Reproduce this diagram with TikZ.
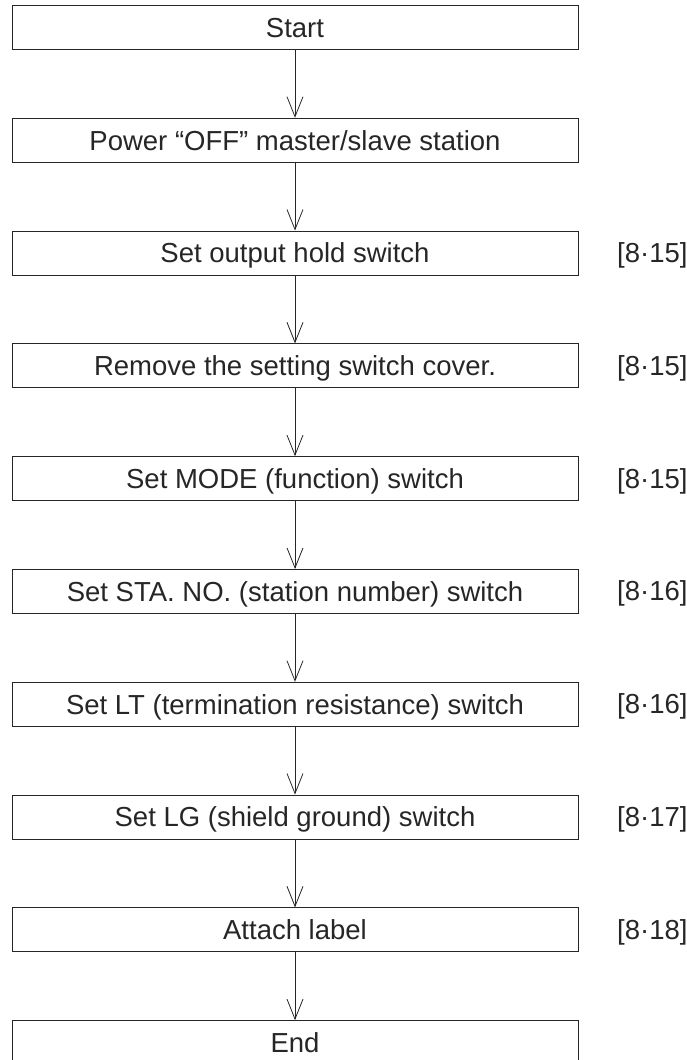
\documentclass[tikz,border=0pt]{standalone}
\usepackage{fontspec}
\setmainfont{Liberation Sans}
\usetikzlibrary{arrows.meta}
\begin{document}
\begin{tikzpicture}[x=1pt,y=-1pt,
  stepbox/.style={draw=black!85,line width=1pt,minimum width=566pt,minimum height=44pt,
    inner sep=0pt,text height=19.7pt,text depth=0pt,anchor=north,
    font=\fontsize{27.5}{30}\selectfont,text=black!85},
  refnote/.style={anchor=west,inner sep=0pt,text height=19.7pt,text depth=0pt,
    font=\fontsize{27.5}{30}\selectfont,text=black!85},
  flow/.style={draw=black!85,line width=0.8pt,-{Straight Barb[length=20pt,width=16pt]}}]
\useasboundingbox (0,0) rectangle (686,1060);
\clip (0,0) rectangle (686,1060);
\node[stepbox] (n0) at (295,5) {Start};
\node[stepbox] (n1) at (295,117.8) {Power “OFF” master/slave station};
\node[stepbox] (n2) at (295,230.6) {Set output hold switch};
\node[stepbox] (n3) at (295,343.4) {Remove the setting switch cover.};
\node[stepbox] (n4) at (295,456.2) {Set MODE (function) switch};
\node[stepbox] (n5) at (295,569) {Set STA. NO. (station number) switch};
\node[stepbox] (n6) at (295,681.8) {Set LT (termination resistance) switch};
\node[stepbox] (n7) at (295,794.6) {Set LG (shield ground) switch};
\node[stepbox] (n8) at (295,907.4) {Attach label};
\node[stepbox] (n9) at (295,1020.2) {End};
\node[refnote] (r2) at (617,252.6) {[8·15]};
\node[refnote] (r3) at (617,365.4) {[8·15]};
\node[refnote] (r4) at (617,478.2) {[8·15]};
\node[refnote] (r5) at (617,591) {[8·16]};
\node[refnote] (r6) at (617,703.8) {[8·16]};
\node[refnote] (r7) at (617,816.6) {[8·17]};
\node[refnote] (r8) at (617,929.4) {[8·18]};
\draw[flow] (n0.south) -- (n1.north);
\draw[flow] (n1.south) -- (n2.north);
\draw[flow] (n2.south) -- (n3.north);
\draw[flow] (n3.south) -- (n4.north);
\draw[flow] (n4.south) -- (n5.north);
\draw[flow] (n5.south) -- (n6.north);
\draw[flow] (n6.south) -- (n7.north);
\draw[flow] (n7.south) -- (n8.north);
\draw[flow] (n8.south) -- (n9.north);
\end{tikzpicture}
\end{document}
